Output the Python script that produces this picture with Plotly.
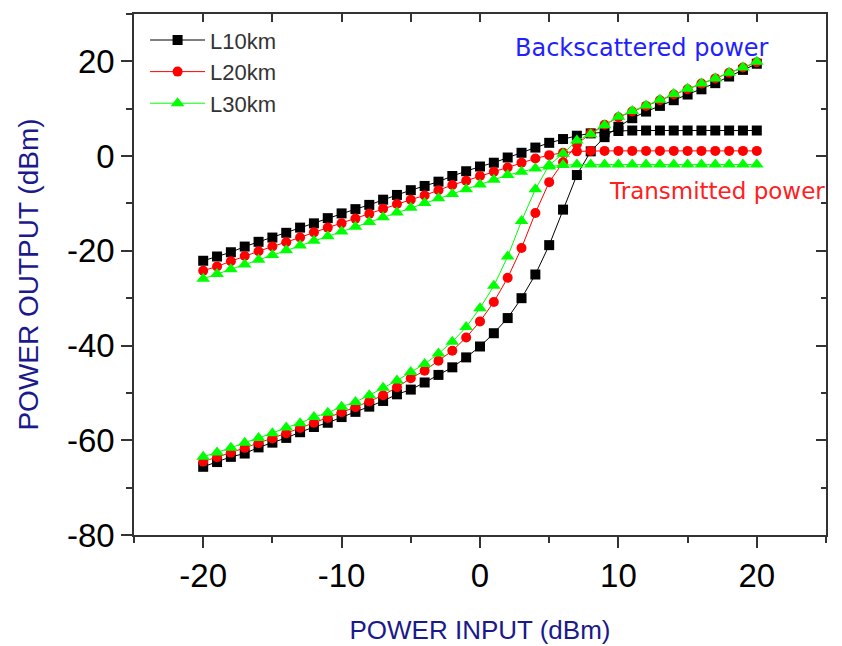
import plotly.graph_objects as go

# ---- data ----
power_in = [-20, -19, -18, -17, -16, -15, -14, -13, -12, -11, -10,
            -9, -8, -7, -6, -5, -4, -3, -2, -1, 0,
            1, 2, 3, 4, 5, 6, 7, 8, 9, 10,
            11, 12, 13, 14, 15, 16, 17, 18, 19, 20]

trans_L10 = [-22.1, -21.2, -20.3, -19.1, -18.1, -17.2, -16.2, -15.1, -14.2, -13.1, -12.1,
             -11.2, -10.3, -9.2, -8.2, -7.2, -6.3, -5.4, -4.2, -3.2, -2.2,
             -1.4, -0.3, 0.7, 1.8, 2.8, 3.6, 4.3, 4.8, 5.1, 5.3,
             5.4, 5.4, 5.4, 5.4, 5.4, 5.4, 5.4, 5.4, 5.4, 5.4]
trans_L20 = [-24.2, -23.3, -22.2, -21.1, -20.1, -19.1, -18.2, -17.2, -16.1, -15.1, -14.2,
             -13.2, -12.2, -11.1, -10.1, -9.2, -8.3, -7.2, -6.1, -5.2, -4.2,
             -3.3, -2.4, -1.4, -0.5, 0.2, 0.7, 1.0, 1.1, 1.1, 1.1,
             1.1, 1.1, 1.1, 1.1, 1.1, 1.1, 1.1, 1.1, 1.1, 1.1]
trans_L30 = [-25.9, -24.9, -23.9, -22.9, -21.9, -20.9, -19.9, -18.9, -17.9, -16.9, -15.9,
             -14.9, -13.9, -12.9, -11.9, -10.9, -9.9, -8.9, -8.0, -7.0, -6.0,
             -5.0, -4.0, -3.3, -2.6, -2.2, -1.9, -1.8, -1.8, -1.8, -1.8,
             -1.8, -1.8, -1.8, -1.8, -1.8, -1.8, -1.8, -1.8, -1.8, -1.8]

back_L10 = [-65.6, -64.6, -63.5, -62.8, -61.5, -60.5, -59.5, -58.3, -57.2, -56.3, -55.1,
            -54.0, -52.9, -51.7, -50.3, -49.3, -47.8, -46.2, -44.6, -42.5, -40.2,
            -37.4, -34.2, -30.0, -25.0, -18.8, -11.3, -4.0, 1.0, 4.0, 6.2,
            8.0, 9.4, 10.6, 11.8, 13.0, 14.1, 15.4, 16.8, 18.2, 19.5]
back_L20 = [-64.5, -63.6, -62.6, -61.6, -60.6, -59.6, -58.5, -57.4, -56.3, -55.3, -54.1,
            -53.0, -51.8, -50.5, -48.8, -46.9, -45.3, -43.2, -41.1, -38.3, -34.9,
            -30.8, -25.7, -19.4, -12.0, -5.5, -1.3, 2.5, 4.8, 6.6, 8.2,
            9.4, 10.6, 11.8, 13.0, 14.1, 15.3, 16.4, 17.6, 18.7, 19.8]
back_L30 = [-63.5, -62.6, -61.6, -60.5, -59.5, -58.5, -57.3, -56.4, -55.1, -54.2, -52.9,
            -51.9, -50.5, -48.9, -47.4, -45.6, -43.9, -41.7, -39.2, -36.1, -32.1,
            -27.4, -21.2, -13.7, -7.0, -1.9, 0.5, 3.3, 4.6, 6.5, 8.3,
            9.5, 10.7, 11.9, 13.1, 14.2, 15.3, 16.4, 17.6, 18.7, 19.9]

series_names = ["L10km", "L20km", "L30km"]
series_colors = ["#000000", "#ff0000", "#00ff00"]
series_symbols = ["square", "circle", "triangle-up"]
series_sizes = [10, 10, 12]
trans_all = [trans_L10, trans_L20, trans_L30]
back_all = [back_L10, back_L20, back_L30]

x_tickvals = [-20, -10, 0, 10, 20]
x_ticktext = ["-20", "-10", "0", "10", "20"]
y_tickvals = [-80, -60, -40, -20, 0, 20]
y_ticktext = ["-80", "-60", "-40", "-20", "0", "20"]

fig = go.Figure()
for name, col, sym, sz, tr, bk in zip(series_names, series_colors, series_symbols,
                                      series_sizes, trans_all, back_all):
    for i, ys in enumerate([tr, bk]):
        fig.add_trace(go.Scatter(
            x=power_in, y=ys, mode="lines+markers", name=name,
            legendgroup=name, showlegend=(i == 0),
            line=dict(color=col, width=1),
            marker=dict(symbol=sym, size=sz, color=col, line=dict(width=0)),
        ))

font_main = "Arial, 'Liberation Sans', sans-serif"
axc = "#333333"

fig.update_layout(
    width=834, height=638,
    margin=dict(l=126, r=16, t=6, b=105),
    paper_bgcolor="white", plot_bgcolor="white",
    font=dict(family=font_main, color="black"),
    showlegend=True,
    legend=dict(x=0.016, y=0.99, xanchor="left", yanchor="top",
                bgcolor="rgba(0,0,0,0)", font=dict(size=22, color="#333333"),
                tracegroupgap=0, itemwidth=55),
    xaxis=dict(range=[-25, 25], tickvals=x_tickvals, ticktext=x_ticktext,
               ticks="outside", ticklen=11, tickwidth=1.5, tickcolor=axc,
               minor=dict(dtick=5, tick0=0, ticks="outside", ticklen=6,
                          tickwidth=1.5, tickcolor=axc),
               showline=True, linecolor=axc, linewidth=1.5,
               showgrid=False, zeroline=False,
               tickfont=dict(size=33, color="black"),
               title=dict(text="POWER INPUT (dBm)", standoff=27,
                          font=dict(size=26, color="#1a1a8c"))),
    yaxis=dict(range=[-80, 30], tickvals=y_tickvals, ticktext=y_ticktext,
               ticks="outside", ticklen=11, tickwidth=1.5, tickcolor=axc,
               minor=dict(dtick=10, tick0=0, ticks="outside", ticklen=6,
                          tickwidth=1.5, tickcolor=axc),
               showline=True, linecolor=axc, linewidth=1.5,
               showgrid=False, zeroline=False,
               tickfont=dict(size=33, color="black"),
               title=dict(text="POWER OUTPUT (dBm)", standoff=20,
                          font=dict(size=28, color="#1a1a8c"))),
    xaxis2=dict(overlaying="x", side="top", range=[-25, 25], dtick=5, tick0=0,
                ticks="inside", ticklen=8, tickwidth=1.5, tickcolor=axc,
                showticklabels=False, showline=True, linecolor=axc,
                linewidth=1.5, showgrid=False, zeroline=False),
    yaxis2=dict(overlaying="y", side="right", range=[-80, 30], dtick=20, tick0=0,
                ticks="inside", ticklen=10, tickwidth=1.5, tickcolor=axc,
                minor=dict(dtick=10, tick0=0, ticks="inside", ticklen=5,
                           tickwidth=1.5, tickcolor=axc),
                showticklabels=False, showline=True, linecolor=axc,
                linewidth=1.5, showgrid=False, zeroline=False),
    annotations=[
        dict(x=11.7, y=22.9, xref="x", yref="y", text="Backscattered power",
             showarrow=False, font=dict(family="'DejaVu Sans', sans-serif",
                                        size=24, color="#1f1fff")),
        dict(x=17.1, y=-7.3, xref="x", yref="y", text="Transmitted power",
             showarrow=False, font=dict(family="'DejaVu Sans', sans-serif",
                                        size=23, color="#ff2020")),
    ],
)
# empty helper trace so the mirrored top/right axes are rendered
fig.add_trace(go.Scatter(x=[], y=[], xaxis="x2", yaxis="y2", showlegend=False,
                         hoverinfo="skip"))

fig.write_html("out.html")
